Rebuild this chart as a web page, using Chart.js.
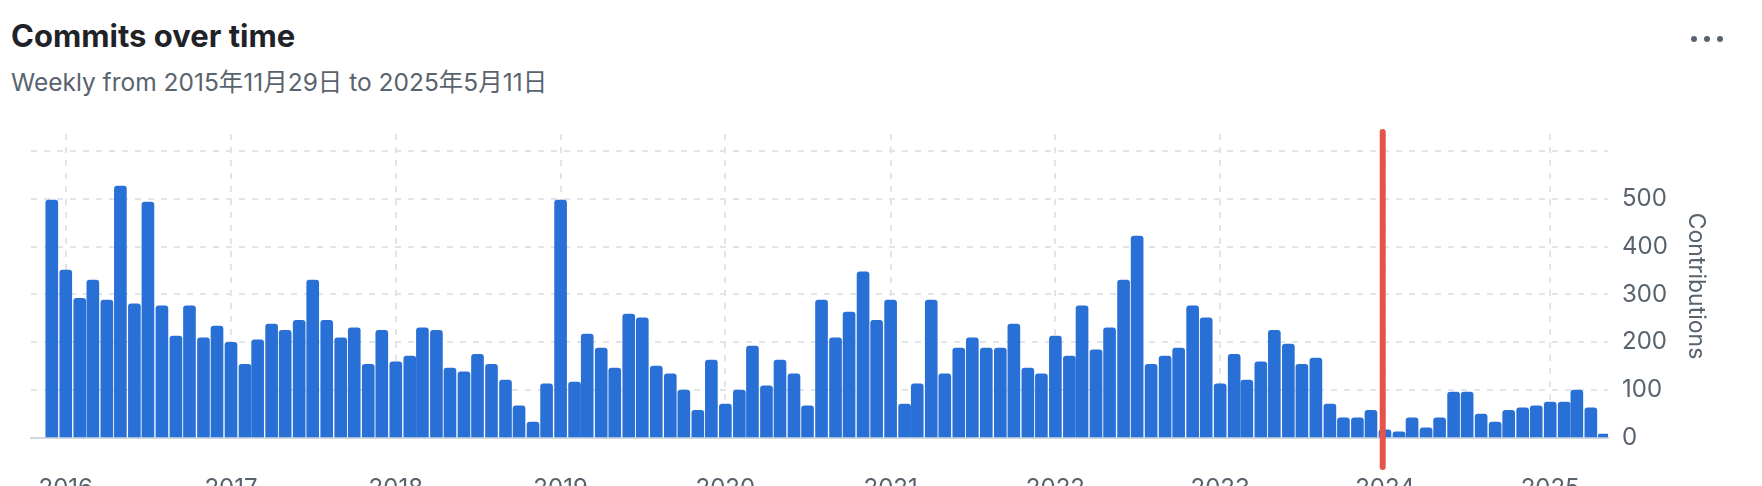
<!DOCTYPE html>
<html>
<head>
<meta charset="utf-8">
<script src="https://cdn.jsdelivr.net/npm/chart.js@4/dist/chart.umd.min.js"></script>
<style>
  html, body { margin: 0; padding: 0; background: #fff; }
  body { width: 1762px; height: 486px; overflow: hidden; position: relative; font-family: Inter, "Noto Sans CJK JP", sans-serif; }
  #title { position: absolute; left: 11px; top: 18px; font-size: 31px; font-weight: 700; color: #1f2328; line-height: 36px; white-space: nowrap; }
  #subtitle { position: absolute; left: 11px; top: 67px; font-size: 24.5px; color: #59636e; line-height: 30px; white-space: nowrap; }
  #menu { position: absolute; left: 1691px; top: 36px; display: flex; gap: 7px; }
  #menu span { display: block; width: 6px; height: 6px; border-radius: 3px; background: #59636e; }
  #chart { position: absolute; left: 0; top: 0; }
</style>
</head>
<body>
<div id="title">Commits over time</div>
<div id="subtitle">Weekly from 2015年11月29日 to 2025年5月11日</div>
<div id="menu"><span></span><span></span><span></span></div>
<canvas id="chart" width="1762" height="520"></canvas>
<script>
// monthly buckets, first one is 2015-12
const startYear = 2015;
const startMonth = 11; // 0-based, December
const commits = [
  497,
  351, 292, 330, 288, 526, 280, 493, 276, 213, 276, 209, 234,
  200, 154, 205, 238, 225, 246, 330, 246, 209, 230, 154, 225,
  159, 171, 230, 225, 146, 138, 175, 154, 121, 67, 33, 113,
  497, 117, 217, 188, 146, 259, 251, 150, 134, 100, 58, 163,
  71, 100, 192, 109, 163, 134, 67, 288, 209, 263, 347, 246,
  288, 71, 113, 288, 134, 188, 209, 188, 188, 238, 146, 134,
  213, 171, 276, 184, 230, 330, 422, 154, 171, 188, 276, 251,
  113, 175, 121, 159, 225, 196, 154, 167, 71, 42, 42, 58,
  17, 13, 42, 21, 42, 96, 96, 50, 33, 58, 63, 67,
  75, 75, 100, 63, 8
];
const yearTicks = [2016, 2017, 2018, 2019, 2020, 2021, 2022, 2023, 2024, 2025];
const yTicks = [0, 100, 200, 300, 400, 500, 600];
const markerDate = [2023, 11, 27];
const rangeStart = [2015, 9, 16];
const rangeEnd = [2025, 4, 9];

const points = commits.map((v, i) => ({
  x: Date.UTC(startYear, startMonth + i, 1),
  y: v
}));

const markerLine = {
  id: 'markerLine',
  afterDatasetsDraw(chart) {
    const ctx = chart.ctx;
    const area = chart.chartArea;
    const x = chart.scales.x.getPixelForValue(Date.UTC(...markerDate));
    ctx.save();
    ctx.strokeStyle = '#e5534b';
    ctx.lineWidth = 6;
    ctx.lineCap = 'round';
    ctx.beginPath();
    ctx.moveTo(x, area.top - 2);
    ctx.lineTo(x, area.bottom + 29);
    ctx.stroke();
    ctx.restore();
  }
};

const tickFont = { family: 'Inter, sans-serif', size: 24 };
const gridColor = '#e1e4e8';

new Chart(document.getElementById('chart'), {
  type: 'bar',
  data: {
    datasets: [{
      data: points,
      backgroundColor: '#2970d6',
      barThickness: 12,
      borderRadius: { topLeft: 3, topRight: 3, bottomLeft: 0, bottomRight: 0 },
      borderSkipped: 'start'
    }]
  },
  options: {
    responsive: false,
    devicePixelRatio: 1,
    animation: false,
    layout: { padding: { top: 134, left: 31, right: 0, bottom: 0 } },
    plugins: { legend: { display: false }, tooltip: { enabled: false } },
    scales: {
      x: {
        type: 'linear',
        offset: false,
        min: Date.UTC(...rangeStart),
        max: Date.UTC(...rangeEnd),
        afterBuildTicks: scale => { scale.ticks = yearTicks.map(y => ({ value: Date.UTC(y, 0, 1) })); },
        afterFit: scale => { scale.height = 82; },
        ticks: {
          autoSkip: false,
          maxRotation: 0,
          padding: 36,
          color: '#59636e',
          font: tickFont,
          callback: v => String(new Date(v).getUTCFullYear())
        },
        grid: { offset: false, color: gridColor, lineWidth: 2, drawTicks: false },
        border: { display: true, color: '#d1d9e0', width: 2, dash: [6, 7] }
      },
      y: {
        position: 'right',
        min: 0,
        max: 635,
        afterBuildTicks: scale => { scale.ticks = yTicks.map(v => ({ value: v })); },
        afterFit: scale => { scale.width = 154; },
        ticks: {
          padding: 14,
          color: '#59636e',
          font: tickFont,
          callback: v => (v === 600 ? '' : String(v))
        },
        grid: { color: gridColor, lineWidth: 2, drawTicks: false },
        border: { display: false, dash: [6, 7] },
        title: {
          display: true,
          text: 'Contributions',
          color: '#59636e',
          font: { family: 'Inter, sans-serif', size: 23 },
          padding: { top: 52, bottom: 0 }
        }
      }
    }
  },
  plugins: [markerLine]
});
</script>
</body>
</html>
